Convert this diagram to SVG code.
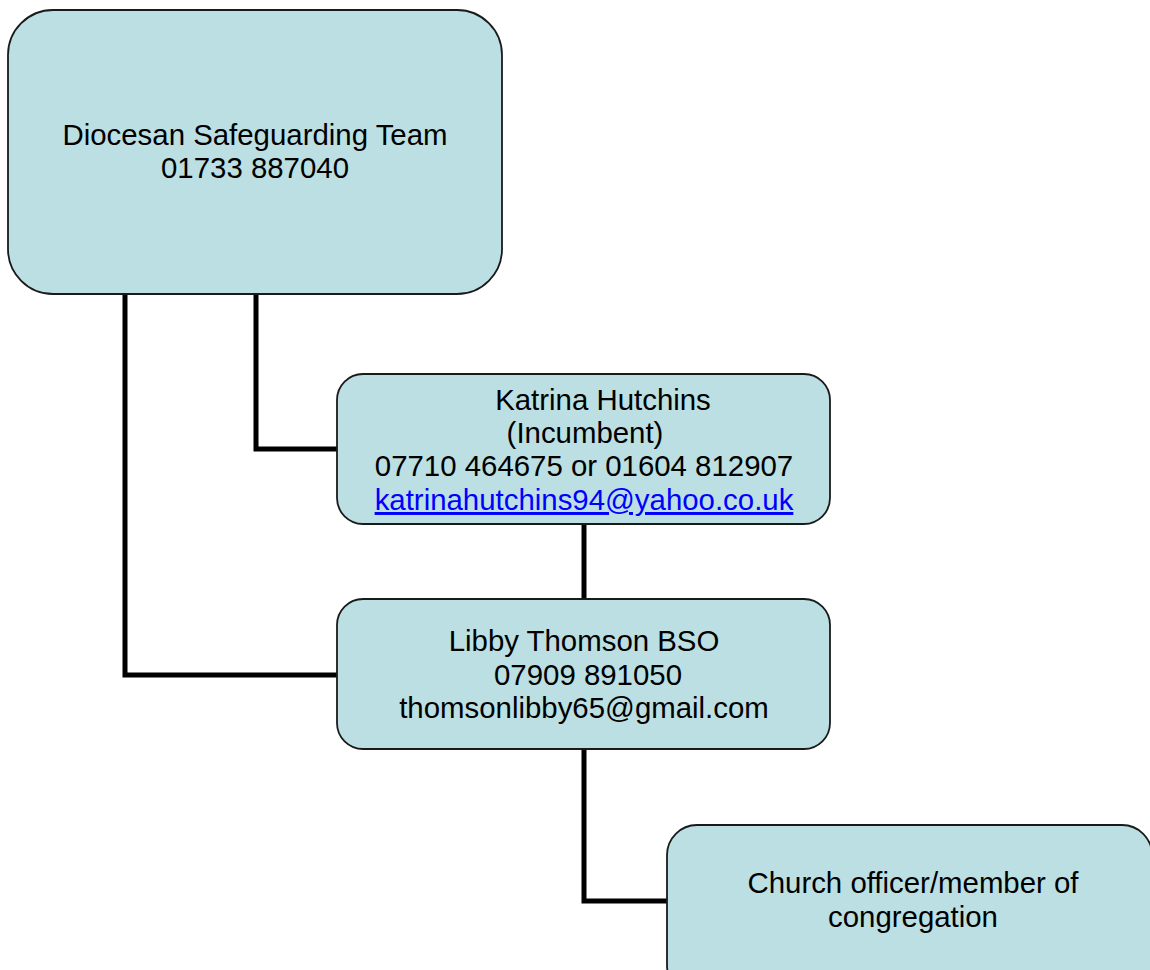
<svg xmlns="http://www.w3.org/2000/svg" width="1150" height="970" viewBox="0 0 1150 970">
<style>
.box{fill:#bbdfe2;stroke:#1a1a1a;stroke-width:1.8}
.t{font-family:"Liberation Sans",Arial,sans-serif;font-size:29.4px;fill:#000;text-anchor:middle}
.link{fill:#0000ff;text-decoration:underline}
.conn{fill:none;stroke:#000;stroke-width:5;stroke-linejoin:miter}
</style>
<rect width="1150" height="970" fill="#fff"/>
<g id="connectors">
<polyline class="conn" points="125,294 125,675 337,675"/>
<polyline class="conn" points="256,294 256,449 337,449"/>
<line class="conn" x1="584" y1="524" x2="584" y2="599"/>
<polyline class="conn" points="584,749 584,901 667,901"/>
</g>
<g id="dst">
<rect class="box" x="8" y="10" width="494" height="284" rx="45"/>
<text class="t" x="255" y="145">Diocesan Safeguarding Team</text>
<text class="t" x="255" y="178">01733 887040</text>
</g>
<g id="katrina">
<rect class="box" x="337" y="374" width="493" height="150" rx="26"/>
<text class="t" x="603" y="410">Katrina Hutchins</text>
<text class="t" x="585" y="443">(Incumbent)</text>
<text class="t" x="584" y="476">07710 464675 or 01604 812907</text>
<text class="t link" x="584" y="510">katrinahutchins94@yahoo.co.uk</text>
</g>
<g id="libby">
<rect class="box" x="337" y="599" width="493" height="150" rx="26"/>
<text class="t" x="584" y="651">Libby Thomson BSO</text>
<text class="t" x="588" y="685">07909 891050</text>
<text class="t" x="584" y="718">thomsonlibby65@gmail.com</text>
</g>
<g id="church">
<rect class="box" x="667" y="825" width="485" height="170" rx="30"/>
<text class="t" x="913" y="893">Church officer/member of</text>
<text class="t" x="913" y="927">congregation</text>
</g>
</svg>
